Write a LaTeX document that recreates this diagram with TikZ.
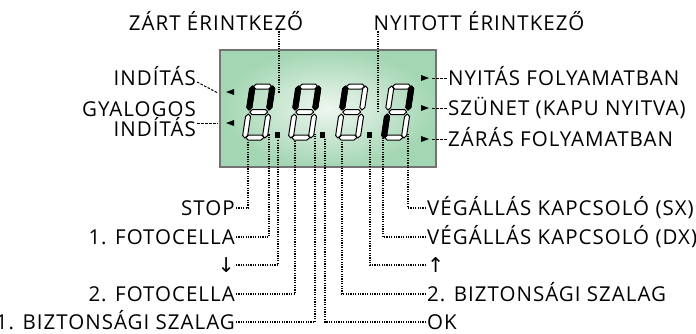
\documentclass[tikz,border=0pt]{standalone}
\usepackage{fontspec}
\setmainfont[LetterSpace=5]{Open Sans}
\newfontfamily\nyilfont{DejaVu Sans}

\definecolor{lcdgreen}{HTML}{A3D6B3}
\definecolor{lcdlight}{HTML}{EEF6EF}

% các đoạn của một chữ số 7 đoạn
\def\sega{(3.5,-53.5) -- (6,-56) -- (19,-56) -- (21.5,-53.5) -- (19,-51) -- (6,-51) -- cycle}
\def\segg{(3.5,-28) -- (6,-30.5) -- (19,-30.5) -- (21.5,-28) -- (19,-25.5) -- (6,-25.5) -- cycle}
\def\segd{(3.5,-2.5) -- (6,-5) -- (19,-5) -- (21.5,-2.5) -- (19,0) -- (6,0) -- cycle}
\def\segf{(2.5,-54) -- (5,-51.5) -- (5,-32.5) -- (2.5,-30) -- (0,-32.5) -- (0,-51.5) -- cycle}
\def\segb{(22.5,-54) -- (25,-51.5) -- (25,-32.5) -- (22.5,-30) -- (20,-32.5) -- (20,-51.5) -- cycle}
\def\sege{(2.5,-26) -- (5,-23.5) -- (5,-4.5) -- (2.5,-2) -- (0,-4.5) -- (0,-23.5) -- cycle}
\def\segc{(22.5,-26) -- (25,-23.5) -- (25,-4.5) -- (22.5,-2) -- (20,-4.5) -- (20,-23.5) -- cycle}

\newcommand{\lcdszam}[2]{%
    \begin{scope}[shift={(#1,140)}, xslant=0.15]
        \foreach \s in {a,b,c,d,e,f,g} \draw[segoff] \csname seg\s\endcsname;
        \foreach \s in {#2} \draw[segon] \csname seg\s\endcsname;
    \end{scope}}

\begin{document}
\begin{tikzpicture}[x=1pt, y=-1pt, font=\fontsize{20.5}{20}\selectfont,
    lbl/.style={inner sep=1pt, text height=14.5pt, text depth=0pt},
    dotline/.style={line width=1.2pt, dash pattern=on 1.2pt off 1.2pt},
    dashline/.style={line width=1pt, dash pattern=on 2.5pt off 1.5pt},
    segoff/.style={fill=white, draw=black, line width=1pt, line join=round},
    segon/.style={fill=black, draw=black, line width=1pt, line join=round}]
    \useasboundingbox (0,0) rectangle (696,333);
    \clip (0,0) rectangle (696,333);

    % 1. Màn hình
    \node[draw=gray!90!black, line width=2.5pt, inner color=lcdlight, outer color=lcdgreen,
        minimum width=216pt, minimum height=117pt, inner sep=0] (lcd) at (328,108.5) {};

    % 2. Các chữ số và dấu chấm
    \lcdszam{242}{f,b}
    \lcdszam{288}{f,b}
    \lcdszam{335}{f}
    \lcdszam{381}{b,e}
    \foreach \x in {275,320,367}
        \fill (\x,132) rectangle ++(5,6);

    % 3. Tam giác chỉ thị
    \foreach \y in {92,123}
        \fill (234,\y-3) -- (226,\y) -- (234,\y+3) -- cycle;
    \foreach \y in {78,108,139}
        \fill (421,\y-3) -- (429,\y) -- (421,\y+3) -- cycle;

    % 4. Nhãn
    \node[lbl] (zart) at (216,23) {ZÁRT ÉRINTKEZŐ};
    \node[lbl] (nyit) at (479,23) {NYITOTT ÉRINTKEZŐ};
    \node[lbl, anchor=east] (indit) at (197,78) {INDÍTÁS};
    \node[anchor=east, align=right, inner sep=1pt, font=\fontsize{20.5}{16}\selectfont]
        (gyal) at (197,119) {GYALOGOS\\INDÍTÁS};
    \node[lbl, anchor=west] (nyitas) at (447,78) {NYITÁS FOLYAMATBAN};
    \node[lbl, anchor=west] (szunet) at (447,108) {SZÜNET (KAPU NYITVA)};
    \node[lbl, anchor=west] (zaras) at (447,139) {ZÁRÁS FOLYAMATBAN};

    \node[lbl, anchor=east] (stop) at (236,208) {STOP};
    \node[lbl, anchor=east] (foto1) at (236,237) {1. FOTOCELLA};
    \node[lbl, anchor=east] (le) at (236,265) {\nyilfont ↓};
    \node[lbl, anchor=east] (foto2) at (236,294) {2. FOTOCELLA};
    \node[lbl, anchor=east] (bizt1) at (236,322) {1. BIZTONSÁGI SZALAG};
    \node[lbl, anchor=west] (vegsx) at (426,208) {VÉGÁLLÁS KAPCSOLÓ (SX)};
    \node[lbl, anchor=west] (vegdx) at (426,237) {VÉGÁLLÁS KAPCSOLÓ (DX)};
    \node[lbl, anchor=west] (fel) at (426,265) {\nyilfont ↑};
    \node[lbl, anchor=west] (bizt2) at (426,294) {2. BIZTONSÁGI SZALAG};
    \node[lbl, anchor=west] (ok) at (426,322) {OK};

    % 5. Đường nối
    \coordinate (zt) at (279,93);
    \coordinate (ny) at (378,112);
    \coordinate (ia) at (218,93);
    \coordinate (ga) at (218,123);
    \coordinate (d1d) at (248,141);
    \coordinate (d1c) at (269,134);
    \coordinate (p1) at (278,139);
    \coordinate (d2d) at (295,141);
    \coordinate (d2c) at (315,134);
    \coordinate (p2) at (325,139);
    \coordinate (d3d) at (342,141);
    \coordinate (p3) at (370,139);
    \coordinate (d4e) at (383,138);
    \coordinate (d4c) at (408,134);
    \foreach \n/\y in {nyitas/78, szunet/108, zaras/139}
        \draw[dashline] (432,\y) -- (\n);

    \draw[dotline] (zt |- zart.south) -- (zt);
    \draw[dotline] (ny |- nyit.south) -- (ny);
    \draw[dashline] ([yshift=-4pt]indit.east) -- (ia);
    \draw[dashline] (gyal.east |- ga) -- (ga);
    \foreach \n/\c in {stop/d1d, foto1/d1c, le/p1, foto2/d2d, bizt1/d2c,
                       ok/p2, bizt2/d3d, fel/p3, vegdx/d4e, vegsx/d4c}
        \draw[dotline] (\n) -| (\c);
\end{tikzpicture}
\end{document}
